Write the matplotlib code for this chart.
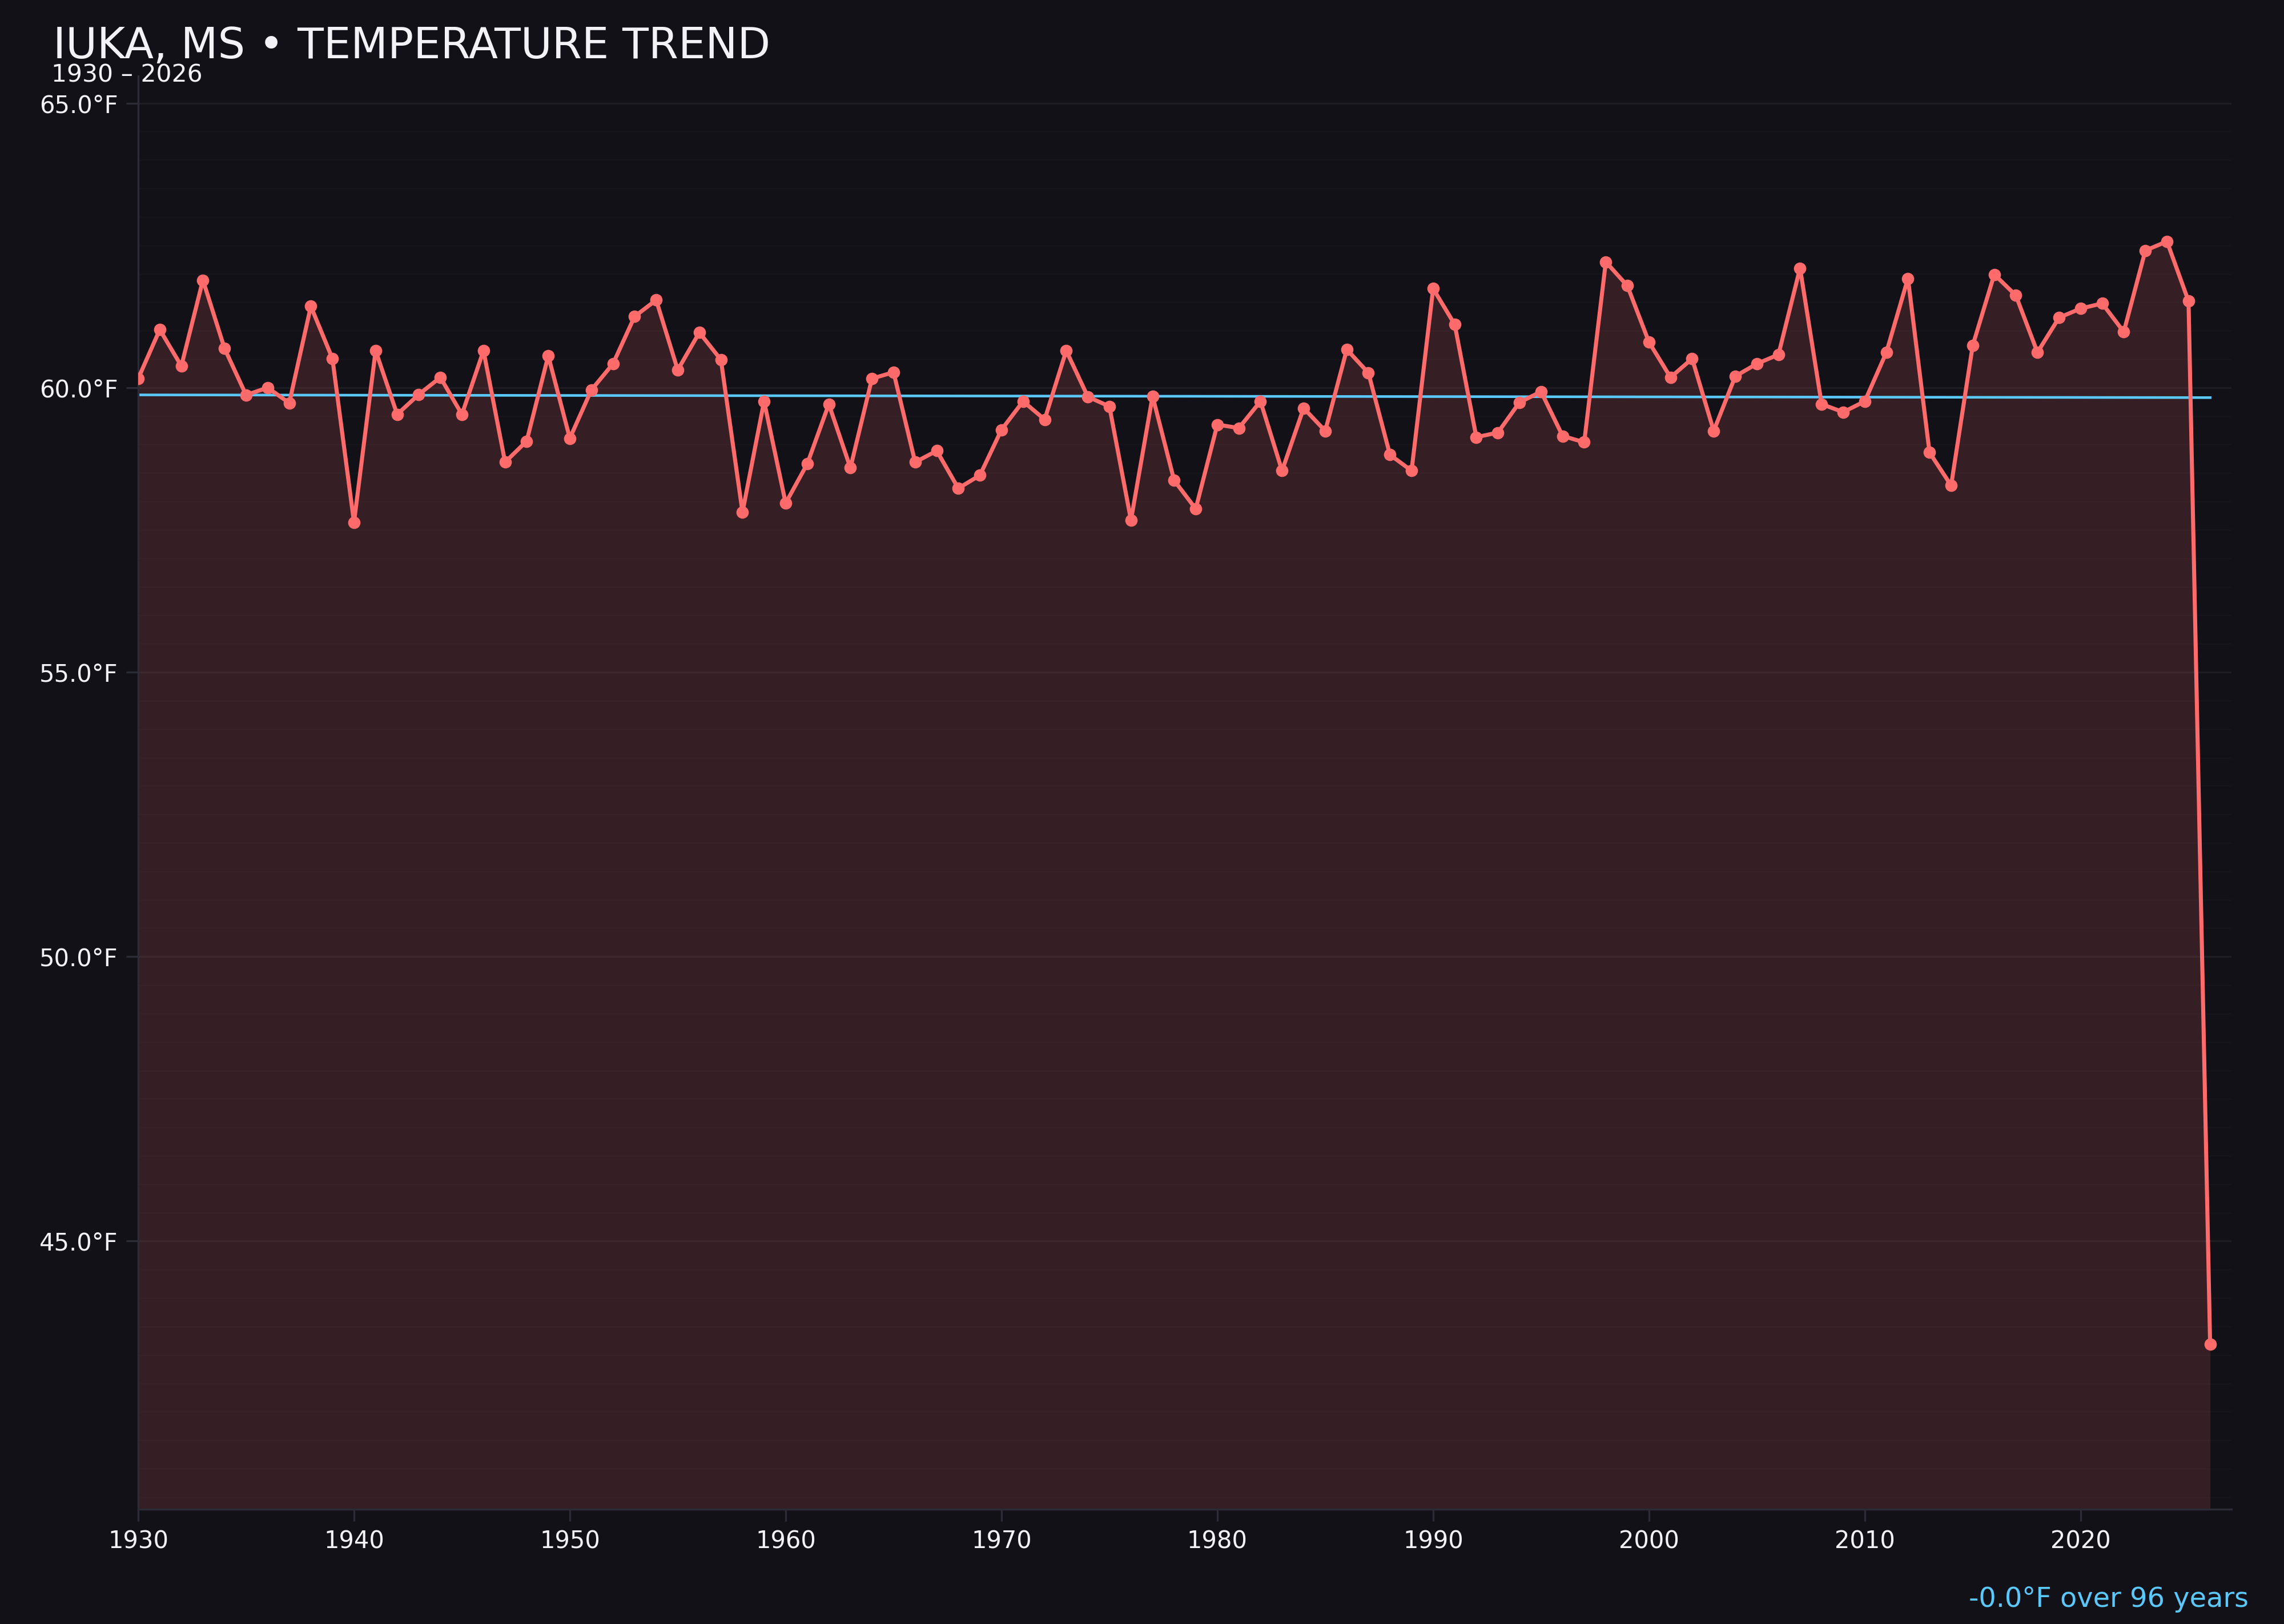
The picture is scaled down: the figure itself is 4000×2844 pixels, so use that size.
import matplotlib
matplotlib.use("Agg")
import matplotlib.pyplot as plt
from matplotlib.ticker import MultipleLocator, FuncFormatter
import numpy as np

# Annual mean temperature, Iuka MS
years = list(range(1930, 2027))
temps = [
    60.16, 61.02, 60.38, 61.89, 60.69, 59.87, 60.00, 59.73, 61.43, 60.51,  # 1930s
    57.63, 60.65, 59.53, 59.88, 60.18, 59.53, 60.65, 58.69, 59.06, 60.56,  # 1940s
    59.11, 59.96, 60.42, 61.25, 61.54, 60.31, 60.97, 60.49, 57.81, 59.76,  # 1950s
    57.97, 58.66, 59.71, 58.59, 60.16, 60.27, 58.69, 58.89, 58.23, 58.46,  # 1960s
    59.26, 59.76, 59.44, 60.65, 59.84, 59.67, 57.67, 59.85, 58.37, 57.87,  # 1970s
    59.35, 59.29, 59.76, 58.54, 59.64, 59.24, 60.67, 60.26, 58.82, 58.54,  # 1980s
    61.74, 61.11, 59.13, 59.21, 59.74, 59.93, 59.15, 59.04, 62.21, 61.79,  # 1990s
    60.80, 60.18, 60.51, 59.24, 60.20, 60.42, 60.58, 62.10, 59.71, 59.57,  # 2000s
    59.76, 60.62, 61.92, 58.86, 58.28, 60.74, 61.99, 61.62, 60.62, 61.23,  # 2010s
    61.39, 61.48, 60.98, 62.41, 62.57, 61.52, 43.19,                        # 2020s
]
x_ticks = [1930, 1940, 1950, 1960, 1970, 1980, 1990, 2000, 2010, 2020]

title = "IUKA, MS \u2022 TEMPERATURE TREND"
subtitle = "1930 \u2013 2026"

# colours
BG = "#121118"
LINE = "#ff6b6b"
TREND = "#5ac8fa"
TEXT = "#f2f2f7"
SPINE = "#2c2c36"

x = np.array(years)
y = np.array(temps)

# linear trend
slope, intercept = np.polyfit(x, y, 1)
trend = slope * x + intercept
change = slope * (x[-1] - x[0])

fig = plt.figure(figsize=(4000 / 300, 2844 / 300), dpi=300, facecolor=BG)
ax = fig.add_axes([0.0605, 0.0705, 0.9166, 0.8827])
ax.set_facecolor(BG)

pad = (y.max() - y.min()) * 0.15
ymin, ymax = y.min() - pad, y.max() + pad

ax.fill_between(x, y, ymin, color=LINE, alpha=0.15, linewidth=0, zorder=1)
ax.plot(x, trend, color=TREND, linewidth=1.1, zorder=2)
ax.plot(x, y, color=LINE, linewidth=1.7, marker="o", markersize=4.2, zorder=3)

ax.set_xlim(1930, 2027)
ax.set_ylim(ymin, ymax)

ax.set_xticks(x_ticks)
ax.yaxis.set_major_locator(MultipleLocator(5))
ax.yaxis.set_minor_locator(MultipleLocator(0.5))
ax.yaxis.set_major_formatter(FuncFormatter(lambda v, p: f"{v:.1f}\u00b0F"))

ax.tick_params(axis="both", which="major", colors=SPINE, labelcolor=TEXT,
               labelsize=10, length=5, width=0.8)
ax.tick_params(axis="y", which="minor", length=0)

ax.grid(True, axis="y", which="major", color="#ffffff", alpha=0.05, linewidth=0.8)
ax.grid(True, axis="y", which="minor", color="#ffffff", alpha=0.018, linewidth=0.6)
ax.grid(False, axis="x")
ax.set_axisbelow(True)

for side in ["top", "right"]:
    ax.spines[side].set_visible(False)
for side in ["left", "bottom"]:
    ax.spines[side].set_color(SPINE)
    ax.spines[side].set_linewidth(0.8)

fig.text(0.0232, 0.9642, title, color=TEXT, fontsize=18, ha="left", va="baseline")
fig.text(0.0225, 0.9494, subtitle, color=TEXT, fontsize=10.2, ha="left", va="baseline")
fig.text(0.9845, 0.0106, f"{change:+.1f}\u00b0F over {x[-1] - x[0]} years".replace("+", ""),
         color=TREND, fontsize=11.5, ha="right", va="baseline")

fig.savefig("out.png", dpi=300, facecolor=BG)
